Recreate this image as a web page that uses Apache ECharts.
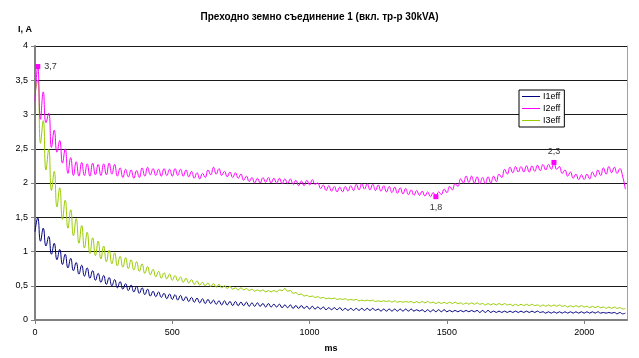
<!DOCTYPE html>
<html>
<head>
<meta charset="utf-8">
<title>Преходно земно съединение 1</title>
<script src="https://cdn.jsdelivr.net/npm/echarts@6/dist/echarts.min.js"></script>
<style>
  html, body { margin: 0; padding: 0; background: #fff; }
  #chart { width: 639px; height: 358px; }
</style>
</head>
<body>
<div id="chart"></div>
<script>
// samples every 10 ms (peaks / troughs of the ripple)
const stepMs = 10;

const i1eff = [
  1.29, 1.49, 1.15, 1.34, 1.08, 1.22, 0.96, 1.12, 0.88, 1.03,
  0.81, 0.96, 0.76, 0.90, 0.72, 0.84, 0.67, 0.80, 0.64, 0.76,
  0.61, 0.72, 0.58, 0.68, 0.55, 0.65, 0.52, 0.62, 0.50, 0.59,
  0.47, 0.56, 0.45, 0.53, 0.43, 0.51, 0.41, 0.49, 0.39, 0.47,
  0.37, 0.45, 0.35, 0.42, 0.34, 0.41, 0.33, 0.39, 0.31, 0.38,
  0.30, 0.37, 0.29, 0.36, 0.28, 0.34, 0.27, 0.33, 0.26, 0.32,
  0.25, 0.31, 0.24, 0.30, 0.24, 0.29, 0.23, 0.28, 0.22, 0.28,
  0.22, 0.27, 0.21, 0.27, 0.21, 0.26, 0.21, 0.26, 0.20, 0.25,
  0.20, 0.25, 0.20, 0.24, 0.19, 0.24, 0.19, 0.23, 0.19, 0.23,
  0.18, 0.22, 0.18, 0.22, 0.17, 0.21, 0.17, 0.21, 0.17, 0.20,
  0.16, 0.20, 0.16, 0.19, 0.16, 0.19, 0.15, 0.18, 0.15, 0.18,
  0.15, 0.18, 0.14, 0.17, 0.14, 0.17, 0.14, 0.17, 0.14, 0.17,
  0.14, 0.17, 0.14, 0.17, 0.14, 0.16, 0.13, 0.16, 0.13, 0.16,
  0.13, 0.16, 0.13, 0.16, 0.13, 0.16, 0.13, 0.16, 0.13, 0.15,
  0.13, 0.15, 0.12, 0.15, 0.12, 0.15, 0.12, 0.15, 0.12, 0.15,
  0.12, 0.14, 0.12, 0.14, 0.12, 0.14, 0.12, 0.14, 0.12, 0.14,
  0.12, 0.14, 0.11, 0.14, 0.11, 0.14, 0.11, 0.13, 0.11, 0.13,
  0.11, 0.13, 0.11, 0.13, 0.11, 0.13, 0.11, 0.13, 0.11, 0.13,
  0.11, 0.13, 0.11, 0.13, 0.11, 0.12, 0.10, 0.12, 0.10, 0.12,
  0.10, 0.12, 0.10, 0.12, 0.10, 0.12, 0.10, 0.12, 0.10, 0.12,
  0.10, 0.12, 0.10, 0.12, 0.10, 0.12, 0.10, 0.11, 0.10, 0.11,
  0.10, 0.11, 0.09, 0.11, 0.09, 0.10
];

const i2eff = [
  3.20, 3.70, 2.93, 3.33, 2.88, 3.02, 2.52, 2.77, 2.45, 2.62,
  2.29, 2.50, 2.14, 2.37, 2.11, 2.31, 2.10, 2.30, 2.11, 2.28,
  2.10, 2.29, 2.12, 2.27, 2.11, 2.28, 2.12, 2.29, 2.13, 2.27,
  2.10, 2.22, 2.08, 2.20, 2.09, 2.19, 2.07, 2.18, 2.08, 2.22,
  2.10, 2.23, 2.12, 2.21, 2.11, 2.20, 2.10, 2.21, 2.11, 2.20,
  2.10, 2.21, 2.11, 2.20, 2.10, 2.19, 2.09, 2.17, 2.07, 2.15,
  2.06, 2.14, 2.08, 2.19, 2.12, 2.23, 2.13, 2.21, 2.11, 2.17,
  2.09, 2.16, 2.08, 2.15, 2.07, 2.13, 2.04, 2.10, 2.02, 2.08,
  2.00, 2.07, 2.00, 2.08, 2.01, 2.08, 2.00, 2.07, 2.00, 2.07,
  1.99, 2.06, 1.99, 2.06, 1.98, 2.04, 1.96, 2.03, 1.96, 2.04,
  1.97, 2.05, 1.98, 2.00, 1.92, 1.97, 1.89, 1.96, 1.88, 1.95,
  1.87, 1.94, 1.87, 1.95, 1.88, 1.96, 1.89, 1.98, 1.90, 1.99,
  1.91, 1.99, 1.90, 1.98, 1.89, 1.97, 1.88, 1.96, 1.87, 1.95,
  1.86, 1.94, 1.85, 1.93, 1.84, 1.92, 1.83, 1.90, 1.82, 1.89,
  1.82, 1.88, 1.81, 1.87, 1.80, 1.86, 1.80, 1.87, 1.83, 1.91,
  1.86, 1.95, 1.90, 1.99, 1.95, 2.06, 2.00, 2.10, 2.01, 2.10,
  2.00, 2.09, 1.99, 2.08, 1.99, 2.09, 2.00, 2.10, 2.02, 2.13,
  2.08, 2.20, 2.13, 2.23, 2.15, 2.24, 2.16, 2.24, 2.16, 2.25,
  2.16, 2.25, 2.17, 2.26, 2.18, 2.27, 2.19, 2.27, 2.20, 2.30,
  2.20, 2.24, 2.14, 2.19, 2.10, 2.16, 2.07, 2.13, 2.05, 2.12,
  2.05, 2.13, 2.06, 2.16, 2.09, 2.19, 2.11, 2.22, 2.13, 2.24,
  2.15, 2.23, 2.14, 2.21, 2.10, 1.91
];

const i3eff = [
  3.31, 3.50, 2.58, 2.91, 2.19, 2.49, 1.89, 2.17, 1.65, 1.93,
  1.47, 1.75, 1.34, 1.61, 1.23, 1.48, 1.12, 1.38, 1.05, 1.28,
  0.97, 1.20, 0.94, 1.15, 0.89, 1.08, 0.85, 1.02, 0.82, 0.98,
  0.79, 0.93, 0.77, 0.91, 0.75, 0.88, 0.73, 0.85, 0.71, 0.82,
  0.68, 0.78, 0.66, 0.74, 0.63, 0.71, 0.61, 0.69, 0.60, 0.67,
  0.58, 0.65, 0.57, 0.63, 0.55, 0.61, 0.54, 0.59, 0.52, 0.57,
  0.51, 0.55, 0.50, 0.54, 0.49, 0.53, 0.48, 0.52, 0.47, 0.50,
  0.46, 0.49, 0.45, 0.47, 0.44, 0.47, 0.44, 0.46, 0.43, 0.45,
  0.42, 0.44, 0.42, 0.44, 0.41, 0.43, 0.41, 0.43, 0.41, 0.44,
  0.43, 0.46, 0.42, 0.43, 0.39, 0.40, 0.37, 0.38, 0.35, 0.36,
  0.34, 0.35, 0.33, 0.34, 0.32, 0.33, 0.31, 0.32, 0.31, 0.32,
  0.30, 0.31, 0.30, 0.31, 0.29, 0.30, 0.29, 0.30, 0.28, 0.29,
  0.28, 0.29, 0.28, 0.29, 0.27, 0.28, 0.27, 0.28, 0.27, 0.28,
  0.26, 0.28, 0.26, 0.27, 0.26, 0.27, 0.26, 0.27, 0.25, 0.27,
  0.25, 0.27, 0.25, 0.27, 0.25, 0.26, 0.24, 0.26, 0.24, 0.26,
  0.24, 0.26, 0.24, 0.26, 0.24, 0.25, 0.23, 0.25, 0.23, 0.25,
  0.23, 0.25, 0.23, 0.24, 0.22, 0.24, 0.22, 0.24, 0.22, 0.24,
  0.22, 0.24, 0.22, 0.23, 0.21, 0.23, 0.21, 0.23, 0.21, 0.23,
  0.21, 0.23, 0.21, 0.22, 0.20, 0.22, 0.20, 0.22, 0.20, 0.22,
  0.20, 0.22, 0.20, 0.21, 0.19, 0.21, 0.19, 0.21, 0.19, 0.21,
  0.19, 0.20, 0.18, 0.20, 0.18, 0.20, 0.18, 0.19, 0.17, 0.19,
  0.17, 0.19, 0.17, 0.18, 0.16, 0.17
];

// labelled points on I2eff: [ms, A]
const i2Notes = [[10, 3.7], [1460, 1.8], [1890, 2.3]];
const noteLabelPos = ['right', 'bottom', 'top'];

const seriesNames = ['I1eff', 'I2eff', 'I3eff'];
const seriesColors = ['#000080', '#ff00ff', '#99cc00'];
const xTicks = [0, 500, 1000, 1500, 2000];
const yTicks = [0, 0.5, 1, 1.5, 2, 2.5, 3, 3.5, 4];

function toPairs(arr) {
  return arr.map(function (v, i) { return [i * stepMs, v]; });
}
function comma(v) {
  return String(v).replace('.', ',');
}

const chart = echarts.init(document.getElementById('chart'));
const font = 'Arial, "Liberation Sans", sans-serif';

const option = {
  animation: false,
  backgroundColor: '#fff',
  title: {
    text: 'Преходно земно съединение 1 (вкл. тр-р 30kVA)',
    left: 'center',
    top: 7,
    textStyle: { fontFamily: font, fontSize: 10, fontWeight: 'bold', color: '#000' }
  },
  legend: {
    orient: 'vertical',
    left: 519,
    top: 90,
    data: seriesNames.map(function (n, k) {
      return { name: n, itemStyle: { color: seriesColors[k] } };
    }),
    icon: 'rect',
    itemWidth: 18,
    itemHeight: 1,
    itemGap: 3,
    padding: [2, 4, 2, 3],
    backgroundColor: '#fff',
    borderColor: '#000',
    borderWidth: 1,
    borderRadius: 0,
    textStyle: { fontFamily: font, fontSize: 9, color: '#000', padding: [0, 0, 0, -2] }
  },
  grid: { left: 35, right: 12, top: 46, bottom: 30 },
  xAxis: {
    type: 'value',
    min: 0,
    max: 2156,
    interval: 500,
    name: 'ms',
    nameLocation: 'middle',
    nameGap: 24,
    nameTextStyle: { fontFamily: font, fontSize: 9, fontWeight: 'bold', color: '#000' },
    axisLine: { lineStyle: { color: '#808080', width: 2 } },
    axisTick: { show: true, length: 4, lineStyle: { color: '#808080' } },
    axisLabel: {
      fontFamily: font, fontSize: 9, color: '#000', margin: 8, showMaxLabel: false,
      formatter: function (v) { return xTicks.indexOf(v) >= 0 ? String(v) : ''; }
    },
    splitLine: { show: false }
  },
  yAxis: [
    {
      type: 'value',
      min: yTicks[0],
      max: yTicks[yTicks.length - 1],
      interval: 0.5,
      name: 'I, A',
      nameLocation: 'end',
      nameGap: 12,
      nameTextStyle: { fontFamily: font, fontSize: 9, fontWeight: 'bold', color: '#000', align: 'right', padding: [0, 3, 0, 0] },
      axisLine: { show: true, lineStyle: { color: '#808080', width: 2 } },
      axisTick: { show: true, length: 4, lineStyle: { color: '#808080' } },
      axisLabel: { fontFamily: font, fontSize: 9, color: '#000', margin: 7, formatter: comma },
      splitLine: { show: true, lineStyle: { color: '#1a1a1a', width: 1 } }
    },
    {
      type: 'value',
      position: 'right',
      min: 0,
      max: 4,
      interval: 0.5,
      axisLine: { show: true, lineStyle: { color: '#a0a0a0', width: 1 } },
      axisTick: { show: false },
      axisLabel: { show: false },
      splitLine: { show: false }
    }
  ],
  series: [i1eff, i2eff, i3eff].map(function (arr, k) {
    const s = {
      name: seriesNames[k],
      type: 'line',
      data: toPairs(arr),
      showSymbol: false,
      smooth: 0.5,
      color: seriesColors[k],
      itemStyle: { color: seriesColors[k] },
      lineStyle: { width: 1, color: seriesColors[k] },
      z: 3 - k
    };
    if (k === 1) {
      s.markPoint = {
        symbol: 'rect',
        symbolSize: 5,
        itemStyle: { color: '#ff00ff' },
        data: i2Notes.map(function (p, j) {
          return {
            coord: p,
            label: {
              show: true,
              position: noteLabelPos[j],
              distance: 4,
              formatter: comma(p[1]),
              fontFamily: font,
              fontSize: 9,
              color: '#333'
            }
          };
        })
      };
    }
    return s;
  })
};

chart.setOption(option);
</script>
</body>
</html>
